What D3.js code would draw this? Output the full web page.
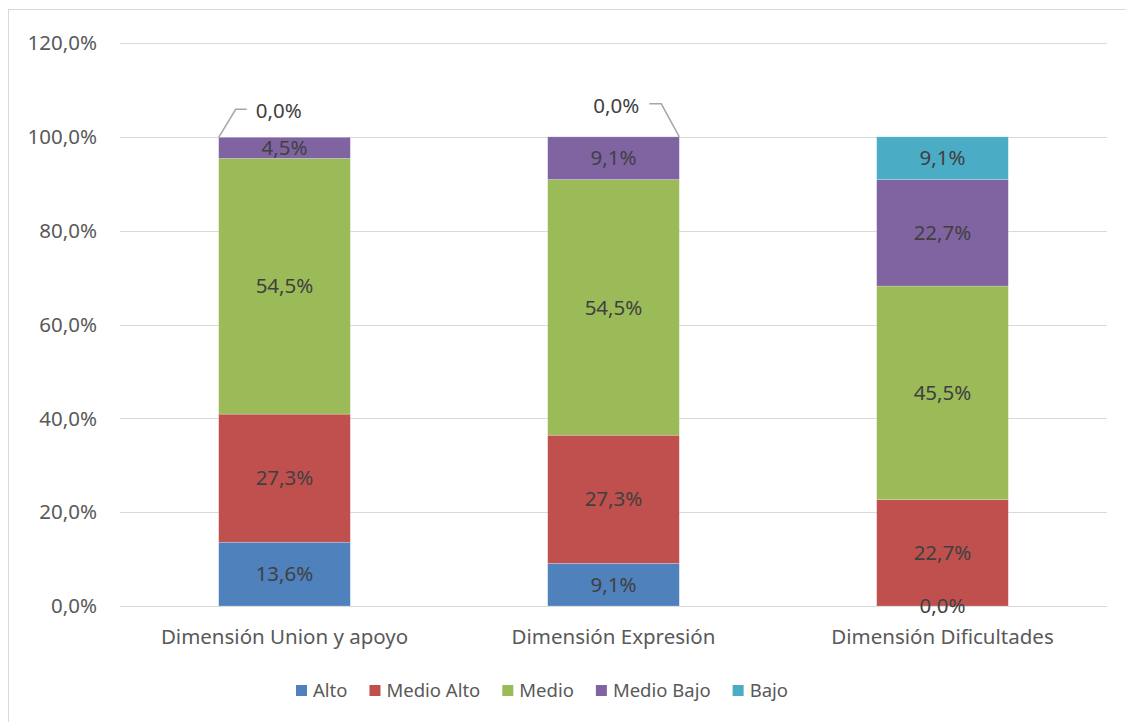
<!DOCTYPE html>
<html>
<head>
<meta charset="utf-8">
<script src="https://cdn.jsdelivr.net/npm/d3@7"></script>
<style>
html,body{margin:0;padding:0;background:#fff;}
svg{display:block;font-family:"Noto Sans",sans-serif;}
</style>
</head>
<body>
<svg id="chart" width="1126" height="722"></svg>
<script>
const categories = ["Dimensión Union y apoyo", "Dimensión Expresión", "Dimensión Dificultades"];
const seriesNames = ["Alto", "Medio Alto", "Medio", "Medio Bajo", "Bajo"];
const alto      = [13.6, 9.1, 0.0];
const medioAlto = [27.3, 27.3, 22.7];
const medio     = [54.5, 54.5, 45.5];
const medioBajo = [4.5, 9.1, 22.7];
const bajo      = [0.0, 0.0, 9.1];
const yTicks = [0, 20, 40, 60, 80, 100, 120];
const colors = ["#4F81BD", "#C0504D", "#9BBB59", "#8064A2", "#4BACC6"];

const values = [alto, medioAlto, medio, medioBajo, bajo];
const rows = categories.map((c, i) => {
  const r = {cat: c};
  seriesNames.forEach((s, j) => r[s] = values[j][i]);
  return r;
});
const stacked = d3.stack().keys(seriesNames)(rows);

const svg = d3.select("#chart");
// chart border
svg.append("rect").attr("x", 8.5).attr("y", 9.5).attr("width", 1130).attr("height", 720)
  .attr("fill", "none").attr("stroke", "#d9d9d9").attr("stroke-width", 1);

const y = d3.scaleLinear().domain([0, 120]).range([606, 43]);
const x = d3.scaleBand().domain(categories).range([120, 1107]).paddingInner(0.6).paddingOuter(0.3);
const fmt = v => d3.format(".1f")(v).replace(".", ",") + "%";
const FS = 20.5;

// gridlines
svg.append("g").selectAll("line").data(yTicks).join("line")
  .attr("x1", 120).attr("x2", 1107)
  .attr("y1", d => Math.round(y(d)) + 0.5).attr("y2", d => Math.round(y(d)) + 0.5)
  .attr("stroke", "#d9d9d9").attr("stroke-width", 1);

// y tick labels
svg.append("g").selectAll("text").data(yTicks).join("text")
  .attr("x", 97).attr("y", d => y(d)).attr("dy", "0.35em")
  .attr("text-anchor", "end").attr("fill", "#595959").attr("font-size", FS)
  .text(d => fmt(d));

// bars
const g = svg.append("g");
stacked.forEach((layer, j) => {
  g.selectAll(null).data(layer).join("rect")
    .attr("x", d => x(d.data.cat))
    .attr("width", x.bandwidth())
    .attr("y", d => y(d[1]))
    .attr("height", d => y(d[0]) - y(d[1]))
    .attr("fill", colors[j])
    .attr("stroke", "#ffffff").attr("stroke-opacity", 0.35).attr("stroke-width", 0.6);
});

// data labels
const labelG = svg.append("g").attr("font-size", FS).attr("fill", "#404040").attr("text-anchor", "middle");
stacked.forEach((layer, j) => {
  layer.forEach((d, i) => {
    const v = values[j][i];
    const cx = x(d.data.cat) + x.bandwidth() / 2;
    if (v === 0 && j === seriesNames.length - 1) {
      // leader-line callouts
      const top = y(d[1]);
      const left = x(d.data.cat), right = left + x.bandwidth();
      if (i === 0) {
        svg.append("polyline")
          .attr("points", `${left},${top} ${left + 17},${top - 28} ${left + 28},${top - 28}`)
          .attr("fill", "none").attr("stroke", "#a6a6a6").attr("stroke-width", 1.5);
        labelG.append("text").attr("x", left + 60).attr("y", top - 26).attr("dy", "0.35em").text(fmt(v));
      } else {
        svg.append("polyline")
          .attr("points", `${right},${top} ${right - 18},${top - 33} ${right - 30},${top - 33}`)
          .attr("fill", "none").attr("stroke", "#a6a6a6").attr("stroke-width", 1.5);
        labelG.append("text").attr("x", right - 63).attr("y", top - 31).attr("dy", "0.35em").text(fmt(v));
      }
    } else {
      labelG.append("text").attr("x", cx).attr("y", (y(d[0]) + y(d[1])) / 2).attr("dy", "0.35em").text(fmt(v));
    }
  });
});

// x labels
svg.append("g").selectAll("text").data(categories).join("text")
  .attr("x", d => x(d) + x.bandwidth() / 2).attr("y", 637).attr("dy", "0.35em")
  .attr("text-anchor", "middle").attr("fill", "#595959").attr("font-size", FS)
  .text(d => d);

// legend
const leg = svg.append("g").attr("font-size", 18.5).attr("fill", "#595959");
let lx = 296;
seriesNames.forEach((s, j) => {
  leg.append("rect").attr("x", lx).attr("y", 685).attr("width", 11).attr("height", 11).attr("fill", colors[j]);
  const t = leg.append("text").attr("x", lx + 17).attr("y", 690.5).attr("dy", "0.35em").attr("fill", "#595959").text(s);
  lx += 17 + t.node().getComputedTextLength() + 22;
});
</script>
</body>
</html>
